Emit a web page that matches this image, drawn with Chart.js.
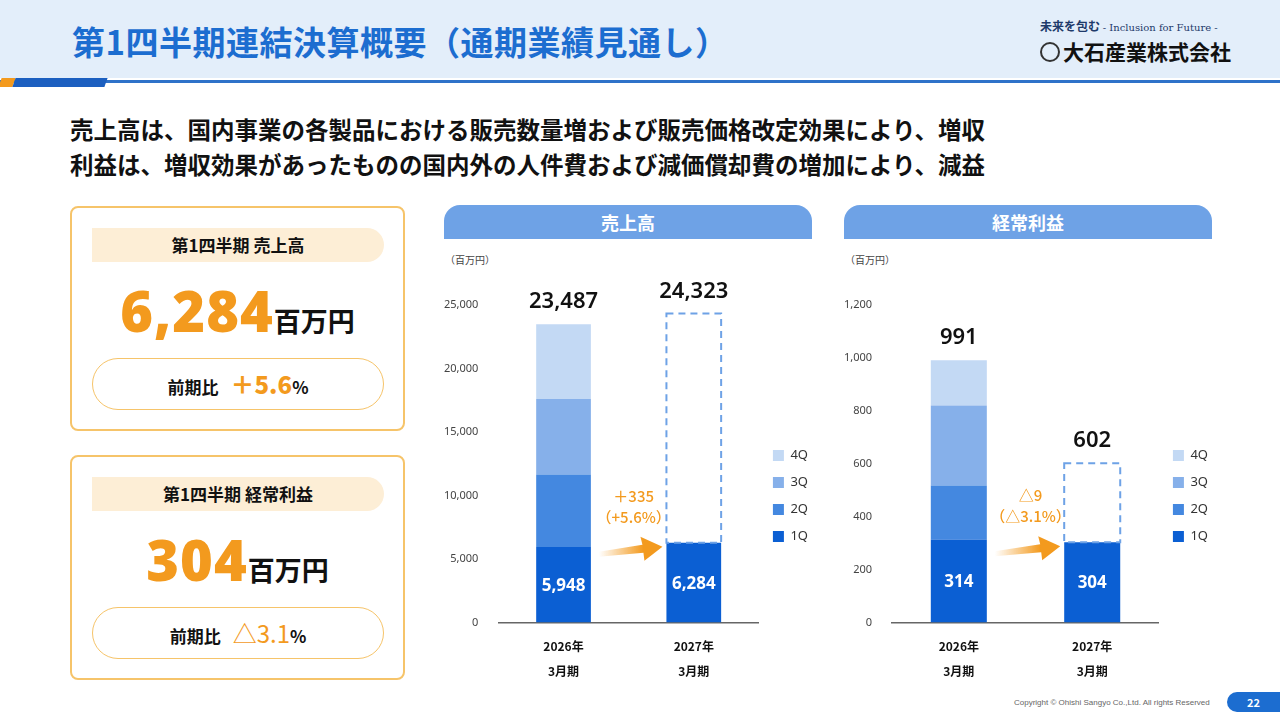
<!DOCTYPE html>
<html><head><meta charset="utf-8">
<script src="https://cdn.jsdelivr.net/npm/chart.js@4"></script>
<style>
body{margin:0;width:1280px;height:720px;position:relative;overflow:hidden;background:#fff;font-family:"Noto Sans CJK JP","Noto Sans",sans-serif;color:#111}
.abs{position:absolute}
.hdr{left:0;top:0;width:1280px;height:78px;background:#e3eefa}
.title{left:72px;top:17px;font-size:33px;font-weight:700;color:#1c6dd0;letter-spacing:0.5px}
.line{left:0;top:80px;width:1280px;height:3px;background:#2f72c9}
.stripe1{left:0;top:78px;width:14px;height:9px;background:#f39a1e;transform:skewX(-20deg)}
.stripe2{left:14px;top:78px;width:92px;height:9px;background:#1c5fc0;transform:skewX(-20deg)}
.lead{left:70px;top:112px;font-size:23.5px;font-weight:700;line-height:35px}
.box{border:2px solid #f6c46a;border-radius:8px;width:331px;height:221px}
.pill{left:20px;top:20px;width:292px;height:34px;background:#fdeed6;border-radius:0 17px 17px 0;text-align:center;line-height:34px;font-size:17px;font-weight:700}
.big{left:0;width:331px;text-align:center;font-weight:700}
.big b{font-size:56px;color:#f39a1e;font-family:"Noto Sans",sans-serif;letter-spacing:1px}
.big span{font-size:27px}
.cmp{left:20px;width:290px;height:50px;border:1.5px solid #f6c46a;border-radius:26px;text-align:center;line-height:50px;font-size:17px;font-weight:700}
.cmp b{font-size:24px;color:#f39a1e;margin-left:12px}
.ch{height:34px;background:#6ea2e6;border-radius:16px 16px 0 0;color:#fff;text-align:center;line-height:34px;font-size:18px;font-weight:700}
.unit{font-size:10px;color:#444}
.foot{left:1014px;top:698px;font-size:8px;color:#666;font-family:"Liberation Sans",sans-serif}
.pg{left:1227px;top:692px;width:53px;height:20px;background:#1c6dd0;border-radius:10px 0 0 10px;color:#fff;font-size:11px;font-weight:700;text-align:center;line-height:20px}
</style></head><body>
<div class="abs hdr"></div>
<div class="abs title">第1四半期連結決算概要（通期業績見通し）</div>
<div class="abs" style="left:1040px;top:17px;font-size:12px;font-weight:700;color:#1e3a6a">未来を包む <span style="font-family:'DejaVu Serif';font-weight:400;font-size:10px">- Inclusion for Future -</span></div>
<div class="abs" style="left:1040px;top:36px;font-size:21px;font-weight:700;color:#111"><span style="display:inline-block;width:16px;height:16px;border:2px solid #333;border-radius:50%;vertical-align:-2px;margin-right:3px"></span>大石産業株式会社</div>
<div class="abs line"></div>
<div class="abs stripe1"></div><div class="abs stripe2"></div>
<div class="abs lead">売上高は、国内事業の各製品における販売数量増および販売価格改定効果により、増収<br>利益は、増収効果があったものの国内外の人件費および減価償却費の増加により、減益</div>

<div class="abs box" style="left:70px;top:206px">
 <div class="abs pill">第1四半期 売上高</div>
 <div class="abs big" style="top:64px"><b>6,284</b><span>百万円</span></div>
 <div class="abs cmp" style="top:150px">前期比<b>＋5.6</b>%</div>
</div>
<div class="abs box" style="left:70px;top:455px">
 <div class="abs pill">第1四半期 経常利益</div>
 <div class="abs big" style="top:64px"><b>304</b><span>百万円</span></div>
 <div class="abs cmp" style="top:150px">前期比<b style="font-weight:400">△3.1</b>%</div>
</div>

<div class="abs ch" style="left:444px;top:205px;width:368px">売上高</div>
<div class="abs ch" style="left:844px;top:205px;width:368px">経常利益</div>
<div class="abs unit" style="left:445px;top:252px">（百万円）</div>
<div class="abs unit" style="left:845px;top:252px">（百万円）</div>
<div class="abs" style="left:432px;top:267px;width:400px;height:420px"><canvas id="c1"></canvas></div>
<div class="abs" style="left:832px;top:267px;width:400px;height:420px"><canvas id="c2"></canvas></div>
<div class="abs foot">Copyright © Ohishi Sangyo Co.,Ltd. All rights Reserved</div>
<div class="abs pg">22</div>
<script>
const periods = [['2026年', '3月期'], ['2027年', '3月期']];
const quarters = ['1Q', '2Q', '3Q', '4Q'];
const qColors = ['#0b5fd3', '#4488e0', '#86b0ea', '#c3d9f4'];

const sales1Q = [5948, 6284];
const sales2Q = [5700, null];
const sales3Q = [5950, null];
const sales4Q = [5889, null];
const salesTotal = [23487, 24323];
const salesChange = ['＋335', '（+5.6%）'];

const profit1Q = [314, 304];
const profit2Q = [204, null];
const profit3Q = [302, null];
const profit4Q = [171, null];
const profitTotal = [991, 602];
const profitChange = ['△9', '（△3.1%）'];

function overlay(totals, change) {
  return {
    id: 'overlay',
    afterDatasetsDraw(chart) {
      const ctx = chart.ctx, y = chart.scales.y;
      const m0 = chart.getDatasetMeta(0);
      ctx.save();
      const b = m0.data[1], w = b.width;
      const top = y.getPixelForValue(totals[1]);
      ctx.setLineDash([7, 5]); ctx.strokeStyle = '#6ea2e6'; ctx.lineWidth = 2;
      ctx.strokeRect(b.x - w / 2, top, w, b.y - top);
      ctx.setLineDash([]);
      ctx.fillStyle = '#111'; ctx.font = '600 22px "Noto Sans"'; ctx.textAlign = 'center';
      totals.forEach((t, i) => {
        ctx.fillText(t.toLocaleString(), m0.data[i].x, y.getPixelForValue(t) - 16);
      });
      ctx.fillStyle = '#fff'; ctx.font = '700 17px "Noto Sans"';
      m0.data.forEach((e, i) => {
        ctx.fillText(chart.data.datasets[0].data[i].toLocaleString(), e.x, (e.y + e.base) / 2 + 6);
      });
      const a0 = m0.data[0], a1 = m0.data[1];
      const x0 = a0.x + w / 2 + 8, x1 = a1.x - w / 2 - 4, ay = a1.y + 4;
      const g = ctx.createLinearGradient(x0, 0, x1, 0);
      g.addColorStop(0, 'rgba(243,154,30,0)'); g.addColorStop(0.7, '#f39a1e'); g.addColorStop(1, '#f39a1e');
      ctx.fillStyle = g;
      ctx.beginPath();
      ctx.moveTo(x0, ay + 5); ctx.lineTo(x1 - 20, ay - 2); ctx.lineTo(x1 - 22, ay - 10);
      ctx.lineTo(x1, ay); ctx.lineTo(x1 - 18, ay + 14); ctx.lineTo(x1 - 19, ay + 6);
      ctx.lineTo(x0, ay + 10); ctx.closePath(); ctx.fill();
      ctx.fillStyle = '#f39a1e'; ctx.font = '500 15px "Noto Sans CJK JP"';
      const cx = (a0.x + a1.x) / 2 + 5;
      ctx.fillText(change[0], cx, ay - 45);
      ctx.fillText(change[1], cx, ay - 24);
      ctx.restore();
    }
  };
}

function makeChart(id, series, totals, change, max, step) {
  new Chart(document.getElementById(id), {
    type: 'bar',
    data: {
      labels: periods,
      datasets: series.map((d, i) => ({
        label: quarters[i], data: d, backgroundColor: qColors[i],
        barPercentage: 0.42, categoryPercentage: 1
      }))
    },
    options: {
      responsive: true, maintainAspectRatio: false, animation: false,
      layout: { padding: { top: 38, right: 14 } },
      scales: {
        x: { stacked: true, grid: { display: false },
             border: { color: '#666', width: 1.5 },
             ticks: { color: '#111', font: { size: 12, weight: 'bold', family: 'Noto Sans CJK JP', lineHeight: 2.1 } } },
        y: { stacked: true, min: 0, max: max, grid: { display: false }, border: { display: false },
             ticks: { stepSize: step, color: '#444', font: { size: 11, family: 'Noto Sans' }, padding: 12 } }
      },
      plugins: {
        tooltip: { enabled: false },
        legend: { position: 'right', reverse: true, align: 'center',
                  labels: { boxWidth: 11, boxHeight: 11, padding: 14, color: '#333', font: { size: 13, family: 'Noto Sans' } } }
      }
    },
    plugins: [overlay(totals, change)]
  });
}

makeChart('c1', [sales1Q, sales2Q, sales3Q, sales4Q], salesTotal, salesChange, 25000, 5000);
makeChart('c2', [profit1Q, profit2Q, profit3Q, profit4Q], profitTotal, profitChange, 1200, 200);
</script>
</body></html>
